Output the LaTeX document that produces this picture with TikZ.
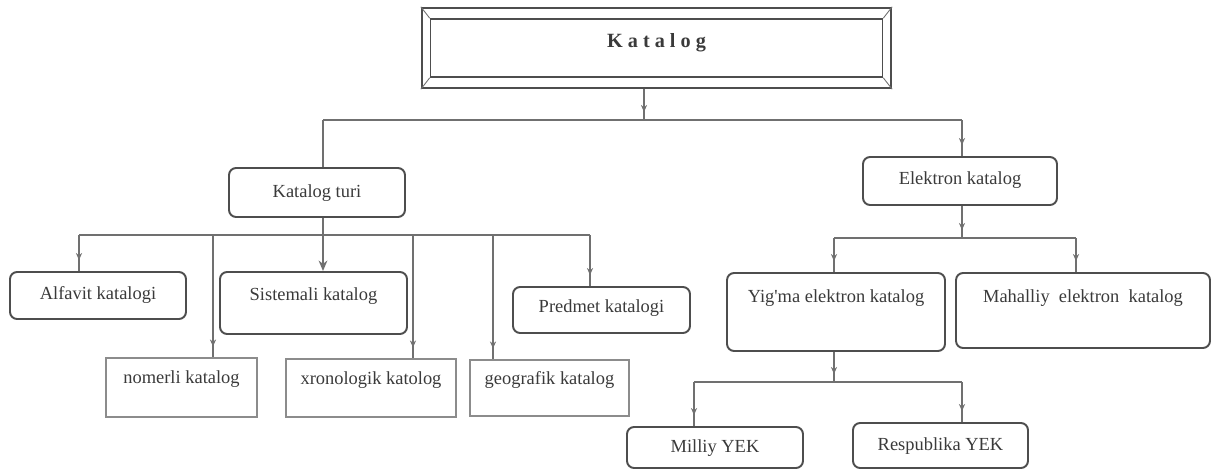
\documentclass[tikz,border=0pt]{standalone}
\usepackage{fontspec}
\setmainfont{Liberation Serif}
\usetikzlibrary{arrows.meta,decorations.markings}

\definecolor{linegray}{HTML}{707070}
\definecolor{boxgray}{HTML}{4E4E4E}
\definecolor{thingray}{HTML}{8C8C8C}
\definecolor{textgray}{HTML}{3A3A3A}

\tikzset{
  box/.style={draw=boxgray, line width=1.1pt, rounded corners=4pt, inner sep=0pt,
    text=textgray, text height=8pt, text depth=2pt, font=\fontsize{10.5}{12}\selectfont},
  plainbox/.style={box, draw=thingray, line width=0.6pt, rounded corners=0pt},
  wire/.style={draw=linegray, line width=0.8pt},
  link/.style={wire, postaction={decorate},
    decoration={markings, mark=at position #1 with {\arrow{Stealth[length=4pt,width=3.5pt]}}}},
  link/.default=-0.22cm
}

\begin{document}
\begin{tikzpicture}[x=0.02cm, y=-0.02cm]
\useasboundingbox (0,0) rectangle (1215,470);

% title frame
\node[draw=boxgray, line width=1.4pt, minimum width=9.38cm, minimum height=1.6cm] (katalog) at (656.5,48) {};
\node[draw=boxgray, line width=1pt, minimum width=9.04cm, minimum height=1.16cm,
  text=textgray, text height=8pt, text depth=8.8pt, font=\fontsize{11.5}{12}\selectfont\bfseries]
  (katalogin) at (656.5,48) {K a t a l o g};
\foreach \c in {north west, north east, south west, south east}
  \draw[wire, line width=0.5pt] (katalog.\c) -- (katalogin.\c);

% nodes
\node[box, minimum width=3.52cm, minimum height=0.98cm] (turi) at (317,192.5) {Katalog turi};
\node[box, minimum width=3.88cm, minimum height=0.96cm, text depth=4pt] (elektron) at (960,181) {Elektron katalog};

\node[box, minimum width=3.52cm, minimum height=0.94cm, text depth=4pt] (alfavit) at (98,295.5) {Alfavit katalogi};
\node[box, minimum width=3.74cm, minimum height=1.24cm, text depth=11pt] (sistemali) at (313.5,303) {Sistemali katalog};
\node[box, minimum width=3.54cm, minimum height=0.92cm, text depth=5.4pt] (predmet) at (601.5,310) {Predmet katalogi};
\node[plainbox, minimum width=3.02cm, minimum height=1.18cm, text depth=12pt] (nomerli) at (181.5,387.5) {nomerli katalog};
\node[plainbox, minimum width=3.40cm, minimum height=1.16cm, text depth=12pt] (xrono) at (371,388) {xronologik katolog};
\node[plainbox, minimum width=3.18cm, minimum height=1.12cm, text depth=12pt] (geo) at (549.5,388) {geografik katalog};

\node[box, minimum width=4.36cm, minimum height=1.56cm, text depth=19pt] (yigma) at (836,312) {Yig\textquotesingle ma elektron katalog};
\node[box, minimum width=5.08cm, minimum height=1.50cm, text depth=17.3pt] (mahalliy) at (1083,310.5) {Mahalliy\ \ elektron\ \ katalog};
\node[box, minimum width=3.52cm, minimum height=0.82cm] (milliy) at (715,447.5) {Milliy YEK};
\node[box, minimum width=3.50cm, minimum height=0.90cm] (respublika) at (940.5,445.5) {Respublika YEK};

% buses
\coordinate (bus0) at (0,120);
\coordinate (bus1) at (0,235);
\coordinate (bus2) at (0,238);
\coordinate (bus3) at (0,382);

% Katalog -> turi, elektron
\draw[link=-0.16cm] ([xshift=-0.25cm]katalog.south) -- ([xshift=-0.25cm]katalog.south |- bus0);
\draw[wire] ([xshift=0.12cm]turi.north |- bus0) -- ([xshift=0.04cm]elektron.north |- bus0);
\draw[wire] ([xshift=0.12cm]turi.north |- bus0) -- ([xshift=0.12cm]turi.north);
\draw[link] ([xshift=0.04cm]elektron.north |- bus0) -- ([xshift=0.04cm]elektron.north);

% Katalog turi -> children
\draw[wire, -{Stealth[length=6pt,width=5pt]}] ([xshift=0.12cm]turi.south) -- ([xshift=0.12cm]turi.south |- sistemali.north);
\draw[wire] ([xshift=-0.38cm]alfavit.north |- bus1) -- ([xshift=-0.23cm]predmet.north |- bus1);
\foreach \n/\dx in {alfavit/-0.38, nomerli/0.63, xrono/0.84, geo/-1.13, predmet/-0.23}
  \draw[link] ([xshift=\dx cm]\n.north |- bus1) -- ([xshift=\dx cm]\n.north);

% Elektron katalog -> children
\draw[link=-0.16cm] ([xshift=0.04cm]elektron.south) -- ([xshift=0.04cm]elektron.south |- bus2);
\draw[wire] ([xshift=-0.04cm]yigma.north |- bus2) -- ([xshift=-0.14cm]mahalliy.north |- bus2);
\foreach \n/\dx in {yigma/-0.04, mahalliy/-0.14}
  \draw[link] ([xshift=\dx cm]\n.north |- bus2) -- ([xshift=\dx cm]\n.north);

% Yig'ma -> YEK
\draw[link=-0.16cm] ([xshift=-0.04cm]yigma.south) -- ([xshift=-0.04cm]yigma.south |- bus3);
\draw[wire] ([xshift=-0.42cm]milliy.north |- bus3) -- ([xshift=0.43cm]respublika.north |- bus3);
\foreach \n/\dx in {milliy/-0.42, respublika/0.43}
  \draw[link] ([xshift=\dx cm]\n.north |- bus3) -- ([xshift=\dx cm]\n.north);
\end{tikzpicture}
\end{document}
